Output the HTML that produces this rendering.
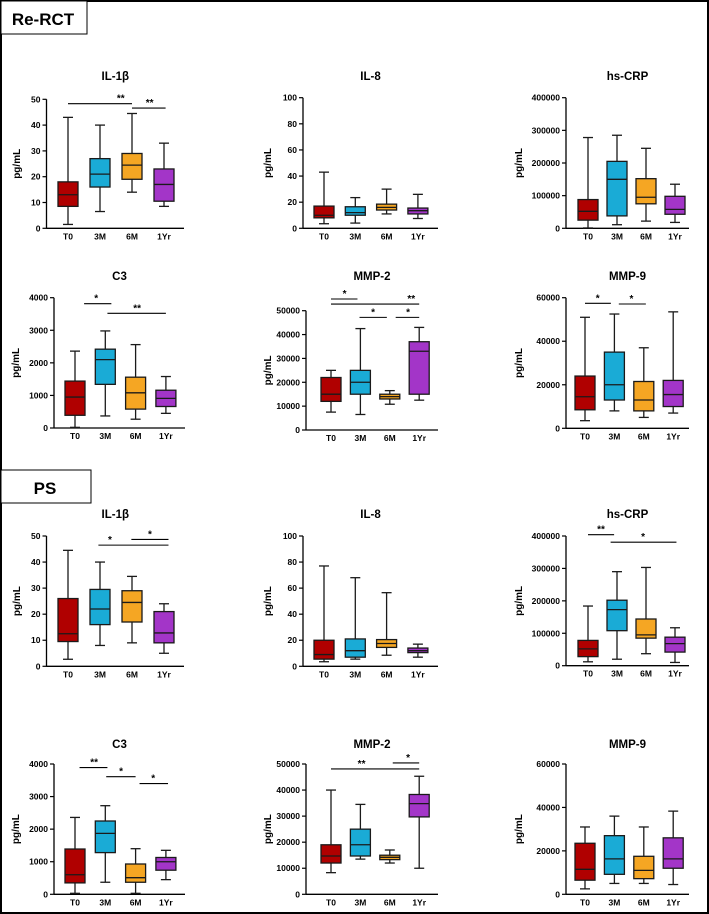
<!DOCTYPE html>
<html><head><meta charset="utf-8"><style>
html,body{margin:0;padding:0;background:#fff}
svg{display:block}
text{font-family:"Liberation Sans",Arial,sans-serif;font-weight:bold;fill:#000}
</style></head><body>
<svg id="fig" width="709" height="914" viewBox="0 0 709 914" xmlns="http://www.w3.org/2000/svg">
<rect x="1" y="1" width="707" height="912" fill="#fff" stroke="#000" stroke-width="2"/>
<g>
<rect x="1" y="1" width="86" height="33" fill="#fff" stroke="#000" stroke-width="1"/>
<text x="43" y="25" text-anchor="middle" font-size="17">Re-RCT</text></g>
<g>
<rect x="1" y="470" width="90" height="33" fill="#fff" stroke="#000" stroke-width="1"/>
<text x="45" y="494" text-anchor="middle" font-size="17">PS</text></g>
</svg>
<script>
const categories = ["T0","3M","6M","1Yr"];
const colors = ["#b00000","#1aabd6","#f5a623","#a335c8"];
// [min, q1, median, q3, max]
const reIL1b = [[1.5,8.5,13,18,43],[6.5,16,21,27,40],[14,19,24.5,29,44.5],[8.5,10.5,17,23,33]];
const reIL8 = [[3.5,8,10,17,43],[4,10,12,16.5,23.5],[11,14,16,18.5,30],[7.5,11,13.5,15.5,26]];
const reCRP = [[1000,25000,52000,88000,278000],[11000,38000,150000,205000,285000],[22000,75000,95000,152000,245000],[18000,43000,58000,98000,135000]];
const reC3 = [[20,390,950,1440,2360],[370,1340,2100,2420,2980],[270,580,1080,1560,2560],[450,660,910,1160,1580]];
const reMMP2 = [[7500,12000,15000,22000,25000],[6500,15000,20000,25000,42500],[10800,13000,14000,15000,16500],[12500,15000,33000,37000,43000]];
const reMMP9 = [[3500,8500,14500,24000,51000],[8000,13000,20000,35000,52500],[5000,8000,13000,21500,37000],[7000,10000,15500,22000,53500]];
const psIL1b = [[2.7,9.5,12.5,26,44.5],[8,16,22,29.5,40],[9,17,24.5,29,34.5],[5,9,12.8,21,24]];
const psIL8 = [[3.5,5.5,9,20,77],[5.5,7,12,21,68],[8.5,14.5,17.5,20.5,56.5],[7,10.5,12,14,17]];
const psCRP = [[12000,28000,52000,78000,184000],[20000,108000,173000,202000,290000],[37000,85000,95000,144000,303000],[10000,42000,68000,88000,117000]];
const psC3 = [[30,350,600,1390,2360],[370,1280,1870,2250,2720],[30,370,510,930,1400],[450,740,1000,1130,1350]];
const psMMP2 = [[8300,12000,14700,19000,40000],[13500,14700,19000,25000,34500],[12000,13300,14200,15000,17000],[10000,29700,34800,38300,45300]];
const psMMP9 = [[2500,6500,11500,23500,31000],[5000,9200,16300,27000,36000],[5000,7200,11000,17500,31000],[4500,12000,16300,26000,38300]];
// significance bars: [fromCategory, toCategory, yValue, label, labelCategoryPos]
const sigReIL1b = [[0,2,48.3,"**",1.65],[2,3.05,46.6,"**",2.55]];
const sigReC3 = [[0.3,1.2,3815,"*",0.7],[1.07,3,3520,"**",2.05]];
const sigReMMP2 = [[0,0.9,54900,"*",0.46],[0,3,52800,"**",2.73],[0.97,1.9,47200,"*",1.43],[2.2,3,47200,"*",2.62]];
const sigReMMP9 = [[0,0.88,57400,"*",0.43],[1.15,2.07,57100,"*",1.58]];
const sigPsIL1b = [[0.95,3.14,46.5,"*",1.31],[1.98,3.14,48.7,"*",2.56]];
const sigPsCRP = [[0,0.9,404000,"**",0.45],[0.78,3.05,381000,"*",1.9]];
const sigPsC3 = [[0.15,1.07,3890,"**",0.63],[1.03,2,3610,"*",1.52],[2.13,3.07,3400,"*",2.58]];
const sigPsMMP2 = [[0,3,48100,"**",1.04],[2.1,3,50400,"*",2.62]];
const ticksIL1b = [0,10,20,30,40,50];
const ticksIL8 = [0,20,40,60,80,100];
const ticksCRP = [0,100000,200000,300000,400000];
const ticksC3 = [0,1000,2000,3000,4000];
const ticksMMP2 = [0,10000,20000,30000,40000,50000];
const ticksMMP9 = [0,20000,40000,60000];

const panels = [
 {name:"re-il1b",title:"IL-1β",data:reIL1b,sig:sigReIL1b,ticks:ticksIL1b,ax:46.5,top:99.3,bot:228.3,xEnd:184,c0:68,sp:32,ty:80,yl:16},
 {name:"re-il8",title:"IL-8",data:reIL8,sig:[],ticks:ticksIL8,ax:303,top:97.7,bot:228.3,xEnd:438,c0:324,sp:31.3,ty:80,yl:267},
 {name:"re-hscrp",title:"hs-CRP",data:reCRP,sig:[],ticks:ticksCRP,ax:566,top:97.7,bot:228.3,xEnd:689,c0:588,sp:29,ty:80,yl:518},
 {name:"re-c3",title:"C3",data:reC3,sig:sigReC3,ticks:ticksC3,ax:54,top:297.7,bot:428,xEnd:185,c0:75,sp:30.3,ty:280,yl:15},
 {name:"re-mmp2",title:"MMP-2",data:reMMP2,sig:sigReMMP2,ticks:ticksMMP2,ax:306,top:310.7,bot:430,xEnd:438,c0:331,sp:29.4,ty:280,yl:267},
 {name:"re-mmp9",title:"MMP-9",data:reMMP9,sig:sigReMMP9,ticks:ticksMMP9,ax:566,top:297.7,bot:428.3,xEnd:689,c0:585,sp:29.4,ty:280,yl:518},
 {name:"ps-il1b",title:"IL-1β",data:psIL1b,sig:sigPsIL1b,ticks:ticksIL1b,ax:46.5,top:536,bot:666.3,xEnd:184,c0:68,sp:32,ty:518,yl:16},
 {name:"ps-il8",title:"IL-8",data:psIL8,sig:[],ticks:ticksIL8,ax:303,top:536,bot:666.3,xEnd:438,c0:324,sp:31.3,ty:518,yl:267},
 {name:"ps-hscrp",title:"hs-CRP",data:psCRP,sig:sigPsCRP,ticks:ticksCRP,ax:566,top:536,bot:665.7,xEnd:689,c0:588,sp:29,ty:518,yl:518},
 {name:"ps-c3",title:"C3",data:psC3,sig:sigPsC3,ticks:ticksC3,ax:54,top:764,bot:894.3,xEnd:185,c0:75,sp:30.3,ty:748,yl:15},
 {name:"ps-mmp2",title:"MMP-2",data:psMMP2,sig:sigPsMMP2,ticks:ticksMMP2,ax:306,top:764,bot:894.3,xEnd:438,c0:331,sp:29.4,ty:748,yl:267},
 {name:"ps-mmp9",title:"MMP-9",data:psMMP9,sig:[],ticks:ticksMMP9,ax:566,top:764,bot:894.3,xEnd:689,c0:585,sp:29.4,ty:748,yl:518}
];
const NS="http://www.w3.org/2000/svg";
const svg=document.getElementById("fig");
function mk(tag,attrs,parent){const e=document.createElementNS(NS,tag);for(const k in attrs)e.setAttribute(k,attrs[k]);parent.appendChild(e);return e;}
panels.forEach(p=>{
 const g=mk("g",{},svg);
 
 
 const ymax=p.ticks[p.ticks.length-1];
 const y=v=>p.bot-(v/ymax)*(p.bot-p.top);
 const x=i=>p.c0+i*p.sp;
 const cx=(p.ax+p.xEnd)/2;
 const t=mk("text",{x:cx,y:p.ty,"text-anchor":"middle","font-size":"11.5"},g);t.textContent=p.title;
 
 
 const yl=mk("text",{x:0,y:0,"text-anchor":"middle","font-size":"10",transform:`translate(${p.yl+4},${(p.top+p.bot)/2}) rotate(-90)`},g);yl.textContent="pg/mL";
 
 
 const ya=mk("line",{x1:p.ax,y1:p.top,x2:p.ax,y2:p.bot,stroke:"#000","stroke-width":"1.3"},g);
 
 
 const xa=mk("line",{x1:p.ax,y1:p.bot,x2:p.xEnd,y2:p.bot,stroke:"#000","stroke-width":"1.3"},g);
 
 
 p.ticks.forEach(v=>{
  mk("line",{x1:p.ax-4,y1:y(v),x2:p.ax,y2:y(v),stroke:"#000","stroke-width":"1.2"},g);
  const tl=mk("text",{x:p.ax-6,y:y(v)+3,"text-anchor":"end","font-size":"8.5"},g);tl.textContent=v;
  
  
 });
 categories.forEach((c,i)=>{
  const tl=mk("text",{x:x(i),y:p.bot+11,"text-anchor":"middle","font-size":"8.5"},g);tl.textContent=c;
  
  
 });
 p.data.forEach((d,i)=>{
  const bg=mk("g",{stroke:"#1a1a1a","stroke-width":"1.3"},g);
  
  
  const X=x(i),w=20,cw=10;
  mk("line",{x1:X,y1:y(d[0]),x2:X,y2:y(d[4])},bg);
  mk("line",{x1:X-cw/2,y1:y(d[0]),x2:X+cw/2,y2:y(d[0])},bg);
  mk("line",{x1:X-cw/2,y1:y(d[4]),x2:X+cw/2,y2:y(d[4])},bg);
  mk("rect",{x:X-w/2,y:y(d[3]),width:w,height:Math.max(1,y(d[1])-y(d[3])),fill:colors[i]},bg);
  mk("line",{x1:X-w/2,y1:y(d[2]),x2:X+w/2,y2:y(d[2])},bg);
 });
 p.sig.forEach(s=>{
  const sg=mk("g",{},g);
  
  
  mk("line",{x1:x(s[0]),y1:y(s[2]),x2:x(s[1]),y2:y(s[2]),stroke:"#000","stroke-width":"1.1"},sg);
  const st=mk("text",{x:x(s[4]),y:y(s[2])-2,"text-anchor":"middle","font-size":"10"},sg);st.textContent=s[3];
 });
});
</script>
</body></html>
